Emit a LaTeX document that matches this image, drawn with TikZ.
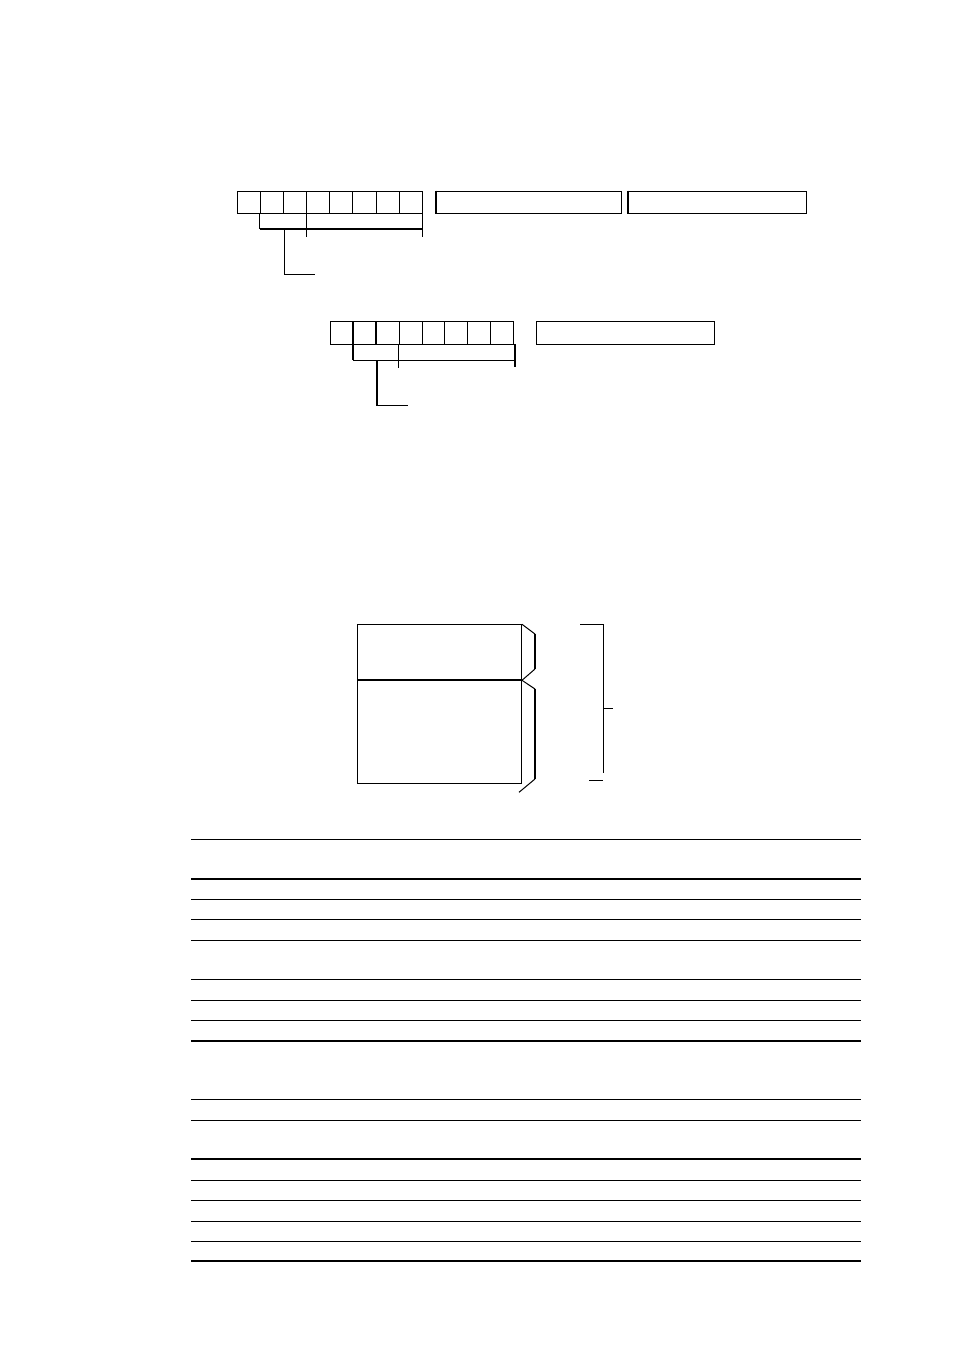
\documentclass[tikz,border=0pt]{standalone}
\usetikzlibrary{positioning}

\begin{document}
\begin{tikzpicture}[x=1pt, y=-1pt, line width=1pt,
  bitcell/.style={draw, inner sep=0pt, minimum height=22.3pt},
  fieldbox/.style={draw, inner sep=0pt, minimum height=22.3pt},
  areabox/.style={draw, inner sep=0pt, minimum width=163.7pt},
  heavy/.style={line width=2pt},
  rule/.style={line width=1pt},
  heavyrule/.style={line width=2pt}]

\useasboundingbox (0,0) rectangle (954,1348);

% first format: 8 bit cells and two fields
\foreach \i in {0,...,7}
  \node[bitcell, minimum width=23.125pt] (a\i) at ({248.9+23.125*\i},202.2) {};
\node[fieldbox, minimum width=185pt] (fa) at (529.2,202.2) {};
\node[fieldbox, minimum width=177.3pt] (fb) at (717.35,202.2) {};
\draw[heavy] (fa.north west) -- (fa.south west);
\draw[heavy] (fb.north west) -- (fb.south west);

\coordinate (ua) at (a1.south west |- 0,229);
\coordinate (ub) at (a7.south east |- 0,229);
\draw (a1.south west) -- (ua);
\draw[heavy] (ua) -- (ub);
\draw (a3.south west) -- ++(0,23.4);
\draw (a7.south east) -- ++(0,23.4);
\coordinate (la) at (284.3,229);
\draw (la) -- ++(0,45.3) -- ++(30.7,0);

% second format: 8 bit cells and one field
\foreach \i in {0,...,7}
  \node[bitcell, minimum width=22.83pt] (b\i) at ({342.1+22.83*\i},332.85) {};
\node[fieldbox, minimum width=178pt] (fc) at (625.3,332.85) {};
\draw[heavy] (b1.north west) -- (b1.south west);
\draw[heavy] (b2.north west) -- (b2.south west);

\coordinate (va) at (b1.south west |- 0,360);
\coordinate (vb) at (514.7,360);
\draw[heavy] (b1.south west) -- (va);
\draw (va) -- (vb);
\draw (b3.south west) -- ++(0,23.3);
\draw[heavy] (514.7,344) -- (514.7,367.3);
\coordinate (lb) at (377,360);
\draw[heavy] (lb) -- ++(0,45.7);
\draw (376,405.7) -- (407.7,405.7);

% memory block
\node[areabox, minimum height=55pt, anchor=north west] (hdr) at (357.3,624.3) {};
\node[areabox, minimum height=102.7pt, anchor=north west] (body) at (hdr.south west) {};

\draw (hdr.north east) -- (535,634);
\draw[heavy] (535,634) -- (535,669);
\draw (535,669) -- (hdr.south east);
\draw (hdr.south east) -- (535,689);
\draw[heavy] (535,689) -- (535,779);
\draw (535,779) -- (519,792.3);

\draw (580,624.3) -- (603.3,624.3) -- (603.3,773.3);
\draw (603.3,708.3) -- (613.3,708.3);
\draw (589,780) -- (602.7,780);

% first table
\foreach \y in {839.3,899.3,919.3,940,979.3,1000,1020.3}
  \draw[rule] (191,\y) -- (861,\y);
\foreach \y in {879,1040.7}
  \draw[heavyrule] (191,\y) -- (861,\y);

% second table
\foreach \y in {1099.3,1120.3,1180.3,1200.3,1221.3,1241.3}
  \draw[rule] (191,\y) -- (861,\y);
\foreach \y in {1159.3,1261.3}
  \draw[heavyrule] (191,\y) -- (861,\y);

\end{tikzpicture}
\end{document}
